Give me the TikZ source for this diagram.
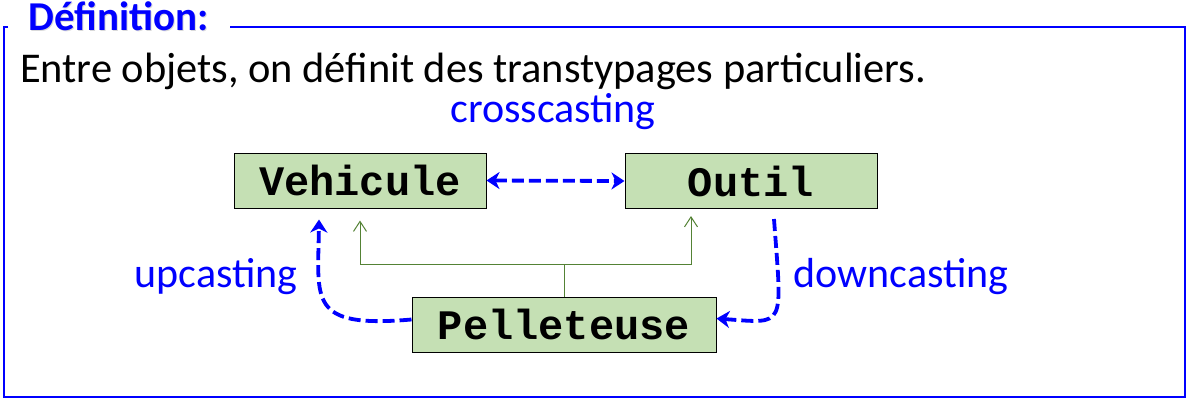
\documentclass[tikz,border=0pt]{standalone}
\usepackage{fontspec}
\setmainfont{Carlito}
\setmonofont{Liberation Mono}
\usetikzlibrary{arrows.meta}
\definecolor{boxgreen}{HTML}{C5E0B4}
\definecolor{inhgreen}{HTML}{548235}
\definecolor{castblue}{RGB}{0,0,255}

\begin{document}
\begin{tikzpicture}[x=1pt,y=-1pt,
    classbox/.style={draw=black,fill=boxgreen,line width=1pt,minimum width=252pt,minimum height=55pt,inner sep=0pt,font=\fontsize{42}{42}\selectfont\ttfamily\bfseries},
    castlabel/.style={text=castblue,inner sep=0pt,anchor=base,font=\fontsize{42}{42}\selectfont},
    cast/.style={castblue,line width=3.8pt,dash pattern=on 12pt off 5pt,>={Stealth[length=13pt,width=17pt,inset=4pt]}},
    inh/.style={inhgreen,line width=1pt,-{Straight Barb[length=10pt,width=13pt]}}]

\useasboundingbox (0,0) rectangle (1189,400);

\draw[castblue,line width=2pt] (8,27) -- (4,27) -- (4,397) -- (1185,397) -- (1185,27) -- (230,27);

\node[castlabel,anchor=base west,text=gray!30,font=\fontsize{41}{41}\selectfont\bfseries] (titleshadow) at (29.5,31.5) {Définition:};
\node[castlabel,anchor=base west,font=\fontsize{41}{41}\selectfont\bfseries] (title) at (28,30) {Définition:};
\node[castlabel,anchor=base west,text=black,font=\fontsize{42.4}{42.4}\selectfont] (intro) at (20,82) {Entre objets, on définit des transtypages particuliers.};

\node[classbox] (veh) at (360,180.5) {Vehicule};
\node[classbox] (out) at (751,181) {Outil};
\node[classbox,minimum width=304pt] (pel) at (564,324.5) {Pelleteuse};

\node[castlabel] (cross) at (553,122) {crosscasting};
\node[castlabel] (up) at (216,287) {upcasting};
\node[castlabel] (down) at (901,287) {downcasting};

\draw[inh] (pel.north) -- ++(0,-32) coordinate (fork) -| ([yshift=-12pt]veh.south);
\draw[inh] (fork) -| ([xshift=-60pt,yshift=-7pt]out.south);

\draw[cast,<->] (veh.east) -- (out.west);
\draw[cast,->] ([yshift=5pt]pel.west) .. controls +(-104,9) and +(-1,81) .. ([xshift=-41pt,yshift=-11pt]veh.south);
\draw[cast,->] ([xshift=23pt,yshift=-10pt]out.south) .. controls +(8,110) and +(70,5) .. ([yshift=6pt]pel.east);

\end{tikzpicture}
\end{document}
